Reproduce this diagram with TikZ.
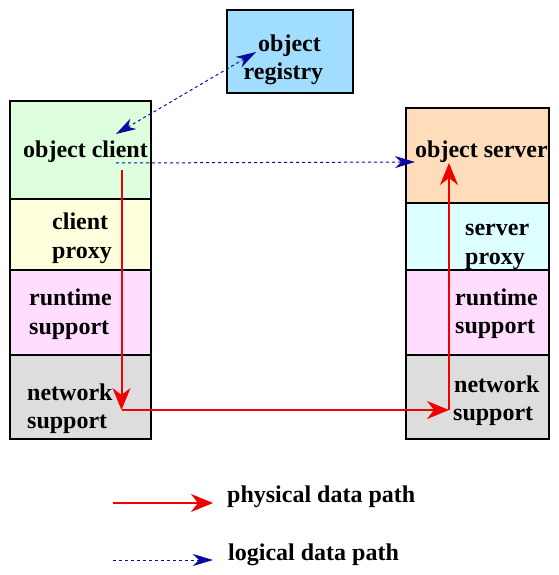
\documentclass[tikz,border=0pt]{standalone}
\usepackage{fontspec}
\setmainfont{Liberation Serif}
\usetikzlibrary{arrows.meta}
\definecolor{regblue}{HTML}{A0DDFF}
\definecolor{cligreen}{HTML}{DDFFDD}
\definecolor{proxyyellow}{HTML}{FFFFDD}
\definecolor{runpink}{HTML}{FFDDFF}
\definecolor{netgray}{HTML}{DDDDDD}
\definecolor{servpeach}{HTML}{FFDDBB}
\definecolor{proxycyan}{HTML}{DDFFFF}
\definecolor{physred}{HTML}{F00000}
\definecolor{logblue}{HTML}{0A0AA0}
\begin{document}
\begin{tikzpicture}[x=1pt,y=-1pt,
  box/.style={draw=black, line width=2.5pt, inner sep=0pt},
  lbl/.style={anchor=base west, inner sep=0pt, font=\fontsize{24}{28}\selectfont\bfseries},
  phys/.style={draw=physred, line width=2pt, -{Stealth[length=22pt,width=18pt,inset=7pt]}},
  logi/.style={draw=logblue, line width=1pt, dash pattern=on 3pt off 3pt, -{Stealth[length=20pt,width=12pt,inset=6pt]}},
  logib/.style={draw=logblue, line width=1pt, dash pattern=on 3pt off 3pt, {Stealth[length=20pt,width=12pt,inset=6pt]}-{Stealth[length=20pt,width=12pt,inset=6pt]}}]
\useasboundingbox (0,0) rectangle (558,575);
% boxes
\node[box, fill=regblue, minimum width=126pt, minimum height=83pt] (reg) at (290,51.5) {};
\node[box, fill=cligreen, minimum width=141pt, minimum height=98pt] (cli) at (80.5,150) {};
\node[box, fill=proxyyellow, minimum width=141pt, minimum height=71pt] (cprox) at (80.5,234.5) {};
\node[box, fill=runpink, minimum width=141pt, minimum height=85pt] (crun) at (80.5,312.5) {};
\node[box, fill=netgray, minimum width=141pt, minimum height=84pt] (cnet) at (80.5,397) {};
\node[box, fill=servpeach, minimum width=143pt, minimum height=95pt] (srv) at (477.5,155.5) {};
\node[box, fill=proxycyan, minimum width=143pt, minimum height=67pt] (sprox) at (477.5,236.5) {};
\node[box, fill=runpink, minimum width=143pt, minimum height=85pt] (srun) at (477.5,312.5) {};
\node[box, fill=netgray, minimum width=143pt, minimum height=84pt] (snet) at (477.5,397) {};
% labels
\node[lbl] (t1) at (258,51.5) {object};
\node[lbl] (t2) at (243.5,80) {registry};
\node[lbl] (t3) at (23,157) {object client};
\node[lbl] (t4) at (52,229) {client};
\node[lbl] (t5) at (52,258) {proxy};
\node[lbl] (t6) at (29,305) {runtime};
\node[lbl] (t7) at (29,334) {support};
\node[lbl] (t8) at (27,400) {network};
\node[lbl] (t9) at (27,428) {support};
\node[lbl] (t10) at (415,157) {object server};
\node[lbl] (t11) at (465,235) {server};
\node[lbl] (t12) at (465,264) {proxy};
\node[lbl] (t13) at (455,305) {runtime};
\node[lbl] (t14) at (455,333) {support};
\node[lbl] (t15) at (454,392) {network};
\node[lbl] (t16) at (453,420) {support};
\node[lbl] (t17) at (227,502) {physical data path};
\node[lbl] (t18) at (228,560) {logical data path};
% path points
\coordinate (p1) at (121.5,170);
\coordinate (p2) at (121.5,410);
\coordinate (p3) at (449,410);
\coordinate (p4) at (449,163);
\coordinate (q1) at (116,134);
\coordinate (q2) at (256,52);
\coordinate (q3) at (116,163);
\coordinate (q4) at (415,162);
\coordinate (l1) at (113,503);
\coordinate (l2) at (213,503);
\coordinate (l3) at (113,560);
\coordinate (l4) at (213,560);
% connectors
\draw[phys] (p1) -- (p2);
\draw[phys] (p2) -- (p3);
\draw[phys] (p3) -- (p4);
\draw[logib] (q1) -- (q2);
\draw[logi] (q3) -- (q4);
\draw[phys] (l1) -- (l2);
\draw[logi] (l3) -- (l4);
\end{tikzpicture}
\end{document}
